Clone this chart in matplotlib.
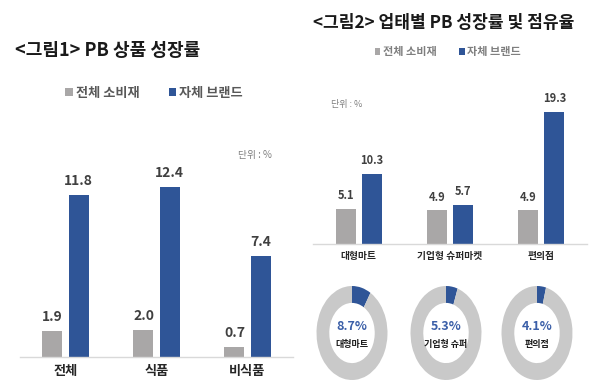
import matplotlib
matplotlib.use("Agg")
import matplotlib.pyplot as plt
import numpy as np

plt.rcParams['font.family'] = ['Noto Sans CJK KR', 'DejaVu Sans']

# ---- data ----
series_names = ["전체 소비재", "자체 브랜드"]
cats1 = ["전체", "식품", "비식품"]
total1 = [1.9, 2.0, 0.7]
pb1 = [11.8, 12.4, 7.4]

cats2 = ["대형마트", "기업형 슈퍼마켓", "편의점"]
total2 = [5.1, 4.9, 4.9]
pb2 = [10.3, 5.7, 19.3]

share_labels = ["대형마트", "기업형 슈퍼", "편의점"]
shares = [8.7, 5.3, 4.1]

title1 = "<그림1> PB 상품 성장률"
title2 = "<그림2> 업태별 PB 성장률 및 점유율"
unit_text = "단위 : %"

GRAY = "#A9A7A7"
BLUE = "#2F5597"
RING = "#C9C9C9"
LBL = "#404040"

W, H = 600, 391
fig = plt.figure(figsize=(W / 100, H / 100), dpi=100)
fig.patch.set_facecolor("white")


def px_axes(x0, y_top, x1, y_bot):
    return fig.add_axes([x0 / W, 1 - y_bot / H, (x1 - x0) / W, (y_bot - y_top) / H])


def bar_panel(ax, cats, a, b, ymax, bw, off, lblsize, catsize):
    x = np.arange(len(cats))
    r1 = ax.bar(x - off, a, bw, color=GRAY, label=series_names[0])
    r2 = ax.bar(x + off, b, bw, color=BLUE, label=series_names[1])
    for rects, vals in ((r1, a), (r2, b)):
        for r, v in zip(rects, vals):
            ax.annotate(f"{v:.1f}", (r.get_x() + r.get_width() / 2, v),
                        xytext=(0, 5), textcoords="offset points",
                        ha="center", va="bottom", fontsize=lblsize,
                        color=LBL, fontweight="bold")
    ax.set_xlim(-0.5, 2.5)
    ax.set_ylim(0, ymax)
    ax.set_xticks(x)
    ax.set_xticklabels(cats, fontsize=catsize, fontweight="bold", color="#262626")
    ax.tick_params(axis="x", length=0, pad=5)
    ax.set_yticks([])
    for s in ("top", "right", "left"):
        ax.spines[s].set_visible(False)
    ax.spines["bottom"].set_color("#D9D9D9")
    ax.spines["bottom"].set_linewidth(1.0)
    ax.patch.set_alpha(0)
    return r1, r2


# ---- left panel ----
ax1 = px_axes(20, 130, 293, 357)
h1 = bar_panel(ax1, cats1, total1, pb1, 227 / 13.7, 0.22, 0.143, 10, 9.5)
fig.text(15 / W, 1 - 50 / H, title1, fontsize=13, fontweight="bold",
         ha="left", va="center", color="#1a1a1a")
leg1 = fig.legend(h1, series_names, loc="center", bbox_to_anchor=(154 / W, 1 - 93 / H),
                  ncol=2, frameon=False, fontsize=9.5, handlelength=0.55,
                  handleheight=0.55, handletextpad=0.25, columnspacing=2.2)
for t in leg1.get_texts():
    t.set_color("#595959")
    t.set_fontweight("bold")
fig.text(255 / W, 1 - 155 / H, unit_text, fontsize=7, color="#7F7F7F",
         ha="center", va="center")

# ---- right panel ----
ax2 = px_axes(313, 90, 587, 244)
h2 = bar_panel(ax2, cats2, total2, pb2, 154 / 6.84, 0.22, 0.143, 8, 7)
fig.text(313 / W, 1 - 23 / H, title2, fontsize=12.3, fontweight="bold",
         ha="left", va="center", color="#1a1a1a")
leg2 = fig.legend(h2, series_names, loc="center", bbox_to_anchor=(448 / W, 1 - 52 / H),
                  ncol=2, frameon=False, fontsize=8, handlelength=0.5,
                  handleheight=0.5, handletextpad=0.25, columnspacing=2.0)
for t in leg2.get_texts():
    t.set_color("#7F7F7F")
    t.set_fontweight("bold")
fig.text(347 / W, 1 - 105 / H, unit_text, fontsize=6.5, color="#7F7F7F",
         ha="center", va="center")

# ---- donuts ----
centers = [352, 446, 537]
dw, dh, cy = 71, 94, 333
for cx, s, lab in zip(centers, shares, share_labels):
    axd = px_axes(cx - dw / 2, cy - dh / 2, cx + dw / 2, cy + dh / 2)
    axd.pie([s, 100 - s], colors=[BLUE, RING], startangle=90, counterclock=False,
            radius=1, wedgeprops=dict(width=0.36, linewidth=0))
    axd.set_aspect("auto")
    axd.set_xlim(-1, 1)
    axd.set_ylim(-1, 1)
    axd.axis("off")
    axd.text(0, 0.13, f"{s:.1f}%", ha="center", va="center", fontsize=9,
             fontweight="bold", color="#3B5FA8")
    axd.text(0, -0.24, lab, ha="center", va="center", fontsize=6.5,
             fontweight="bold", color="#1a1a1a")

fig.savefig("out.png", dpi=100, facecolor="white")
